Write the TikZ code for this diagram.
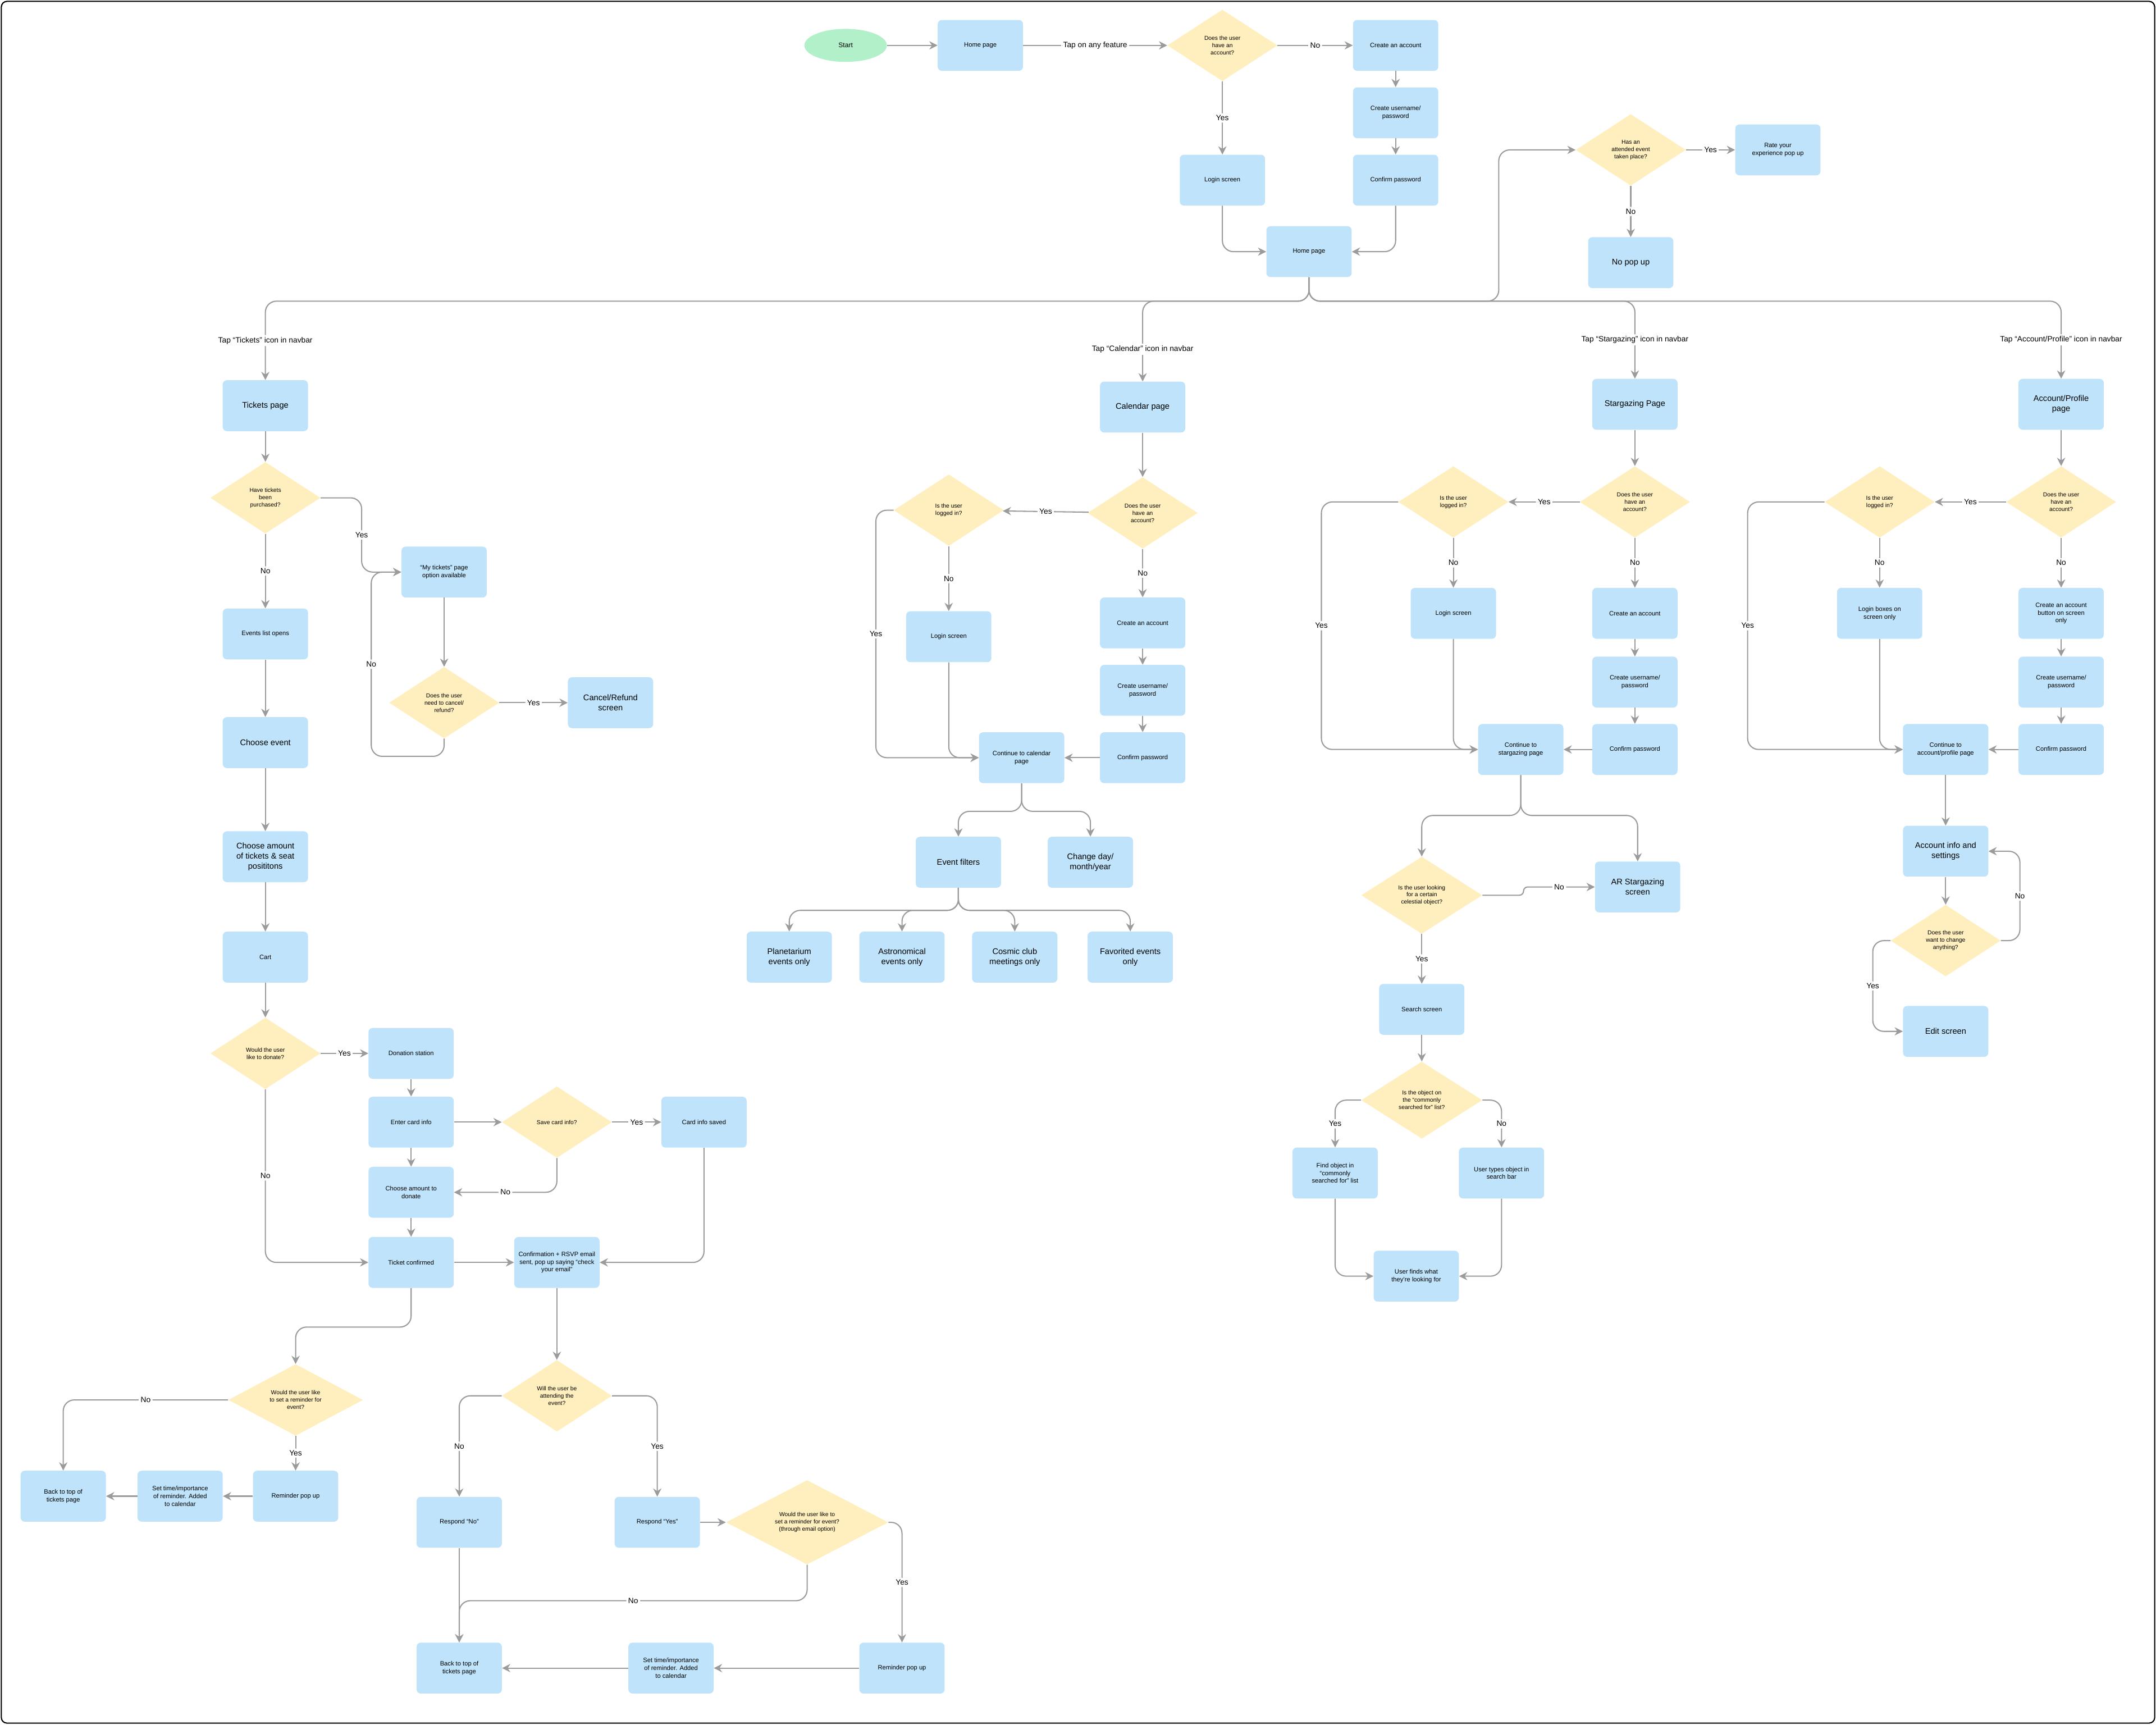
\documentclass[tikz,border=0pt]{standalone}
\usepackage{fontspec}
\setmainfont{Liberation Sans}
\usepackage{tikz}
\usetikzlibrary{shapes.geometric,arrows.meta}
\definecolor{boxblue}{RGB}{190,227,250}
\definecolor{decyellow}{RGB}{255,239,190}
\definecolor{startgreen}{RGB}{178,240,202}
\definecolor{linegrey}{RGB}{155,155,155}
\begin{document}
\begin{tikzpicture}[x=0.05cm,y=-0.05cm]
	\tikzstyle{box}=[rectangle,rounded corners=0.15cm,fill=boxblue,minimum width=3.1cm,minimum height=1.85cm,align=center,font=\fontsize{6.5}{8}\selectfont]
	\tikzstyle{bigbox}=[box,font=\fontsize{8.5}{10.5}\selectfont]
	\tikzstyle{dec}=[diamond,fill=decyellow,inner sep=0pt,minimum width=4cm,minimum height=2.6cm,align=center,font=\fontsize{6}{7.5}\selectfont]
	\tikzstyle{lbl}=[fill=white,inner sep=2pt,font=\fontsize{8}{10}\selectfont]
	\tikzstyle{arr}=[draw=linegrey,line width=1.2pt,rounded corners=0.4cm,-{Stealth[length=0.3cm,width=0.3cm]}]
	\useasboundingbox (0,0) rectangle (1568,1254);
	\draw[line width=1.2pt,rounded corners=0.2cm] (1,1) rectangle (1567,1253);
	% top
		\node[ellipse,fill=startgreen,minimum width=3cm,minimum height=1.2cm,font=\fontsize{7}{8}\selectfont] (start) at (615,33) {Start};
		\node[box] (home1) at (713,33) {Home page};
		\node[dec] (q1) at (889,33) {Does the user\\have an\\account?};
		\node[box] (create1) at (1015,33) {Create an account};
		\node[box] (user1) at (1015,82) {Create username/\\password};
		\node[box] (confirm1) at (1015,131) {Confirm password};
		\node[box] (login1) at (889,131) {Login screen};
		\node[box] (home2) at (952,183) {Home page};
		\node[dec] (q2) at (1186,109) {Has an\\attended event\\taken place?};
		\node[box] (rate) at (1293,109) {Rate your\\experience pop up};
		\node[bigbox] (nopop) at (1186,191) {No pop up};
			\draw[arr] (start) -- (home1);
			\draw[arr] (home1) -- node[lbl] {Tap on any feature} (q1);
			\draw[arr] (q1) -- node[lbl] {No} (create1);
			\draw[arr] (q1) -- node[lbl] {Yes} (login1);
			\draw[arr] (create1) -- (user1);
			\draw[arr] (user1) -- (confirm1);
			\draw[arr] (login1) |- (home2);
			\draw[arr] (confirm1) |- (home2);
			\draw[arr] (q2) -- node[lbl] {Yes} (rate);
			\draw[arr] (q2) -- node[lbl] {No} (nopop);
	% navbar
		\coordinate (bus) at (952,219);
		\coordinate (q2up) at (1090,150);
		\node[bigbox] (tix) at (193,295) {Tickets page};
		\node[bigbox] (cal) at (831,296) {Calendar page};
		\node[bigbox] (star) at (1189,294) {Stargazing Page};
		\node[bigbox] (acct) at (1499,294) {Account/Profile\\page};
			\draw[arr] (home2) -- (bus) -| node[lbl,pos=0.75] {Tap “Tickets” icon in navbar} (tix);
			\draw[arr] (home2) -- (bus) -| node[lbl,pos=0.8] {Tap “Calendar” icon in navbar} (cal);
			\draw[arr] (home2) -- (bus) -| node[lbl,pos=0.75] {Tap “Stargazing” icon in navbar} (star);
			\draw[arr] (home2) -- (bus) -| node[lbl,pos=0.75] {Tap “Account/Profile” icon in navbar} (acct);
			\draw[arr] (home2) -- (bus) -| (q2up) |- (q2);
	% tickets
		\node[dec] (qt1) at (193,362) {Have tickets\\been\\purchased?};
		\node[box] (events) at (193,461) {Events list opens};
		\node[bigbox] (choose) at (193,540) {Choose event};
		\node[bigbox] (amount) at (193,623) {Choose amount\\of tickets \& seat\\posititons};
		\node[box] (cart) at (193,696) {Cart};
		\node[dec] (qt2) at (193,766) {Would the user\\like to donate?};
		\node[box] (mytix) at (323,416) {“My tickets” page\\option available};
		\node[dec] (qt3) at (323,511) {Does the user\\need to cancel/\\refund?};
		\node[bigbox] (cancel) at (444,511) {Cancel/Refund\\screen};
		\node[box] (donation) at (299,766) {Donation station};
		\node[box] (card) at (299,816) {Enter card info};
		\node[dec] (qt4) at (405,816) {Save card info?};
		\node[box] (saved) at (512,816) {Card info saved};
		\node[box] (donamt) at (299,867) {Choose amount to\\donate};
		\node[box] (confirmed) at (299,918) {Ticket confirmed};
		\node[box] (email) at (405,918) {Confirmation + RSVP email\\sent, pop up saying “check\\your email”};
		\node[dec,minimum width=4.9cm] (qt5) at (215,1018) {Would the user like\\to set a reminder for\\event?};
		\node[box] (back1) at (46,1088) {Back to top of\\tickets page};
		\node[box] (settime1) at (131,1088) {Set time/importance\\of reminder. Added\\to calendar};
		\node[box] (reminder1) at (215,1088) {Reminder pop up};
		\node[dec] (qt6) at (405,1015) {Will the user be\\attending the\\event?};
		\node[box] (respno) at (334,1107) {Respond “No”};
		\node[box] (respyes) at (478,1107) {Respond “Yes”};
		\node[dec,minimum width=5.9cm] (qt7) at (587,1107) {Would the user like to\\set a reminder for event?\\(through email option)};
		\node[box] (back2) at (334,1213) {Back to top of\\tickets page};
		\node[box] (settime2) at (488,1213) {Set time/importance\\of reminder. Added\\to calendar};
		\node[box] (reminder2) at (656,1213) {Reminder pop up};
		\coordinate (yt1) at (263,416);
		\coordinate (nt1) at (270,550);
		\coordinate (c2) at (299,965);
		\coordinate (c3) at (587,1164);
			\draw[arr] (tix) -- (qt1);
			\draw[arr] (qt1) -- node[lbl] {No} (events);
			\draw[arr] (qt1.east) -| node[lbl,pos=0.75] {Yes} (yt1) -- (mytix.west);
			\draw[arr] (mytix) -- (qt3);
			\draw[arr] (qt3) -- node[lbl] {Yes} (cancel);
			\draw[arr] (qt3.south) |- (nt1) |- node[lbl,pos=0.25] {No} (mytix.west);
			\draw[arr] (events) -- (choose);
			\draw[arr] (choose) -- (amount);
			\draw[arr] (amount) -- (cart);
			\draw[arr] (cart) -- (qt2);
			\draw[arr] (qt2) -- node[lbl] {Yes} (donation);
			\draw[arr] (qt2.south) |- node[lbl,pos=0.25] {No} (confirmed);
			\draw[arr] (donation) -- (card);
			\draw[arr] (card) -- (donamt);
			\draw[arr] (donamt) -- (confirmed);
			\draw[arr] (card) -- (qt4);
			\draw[arr] (qt4) -- node[lbl] {Yes} (saved);
			\draw[arr] (qt4.south) |- node[lbl,pos=0.75] {No} (donamt);
			\draw[arr] (confirmed) -- (email);
			\draw[arr] (saved) |- (email);
			\draw[arr] (confirmed) -- (c2) -| (qt5);
			\draw[arr] (qt5.west) -| node[lbl,pos=0.25] {No} (back1);
			\draw[arr] (qt5) -- node[lbl] {Yes} (reminder1);
			\draw[arr] (reminder1) -- (settime1);
			\draw[arr] (settime1) -- (back1);
			\draw[arr] (email) -- (qt6);
			\draw[arr] (qt6.west) -| node[lbl,pos=0.75] {No} (respno);
			\draw[arr] (qt6.east) -| node[lbl,pos=0.75] {Yes} (respyes);
			\draw[arr] (respyes) -- (qt7);
			\draw[arr] (respno) -- (back2);
			\draw[arr] (qt7.south) -- (c3) -| node[lbl,pos=0.25] {No} (back2);
			\draw[arr] (qt7.east) -| node[lbl,pos=0.75] {Yes} (reminder2);
			\draw[arr] (reminder2) -- (settime2);
			\draw[arr] (settime2) -- (back2);
	% calendar
		\node[dec] (qc1) at (831,373) {Does the user\\have an\\account?};
		\node[dec] (qc2) at (690,371) {Is the user\\logged in?};
		\node[box] (createc) at (831,453) {Create an account};
		\node[box] (userc) at (831,502) {Create username/\\password};
		\node[box] (confirmc) at (831,551) {Confirm password};
		\node[box] (loginc) at (690,463) {Login screen};
		\node[box] (contc) at (743,551) {Continue to calendar\\page};
		\node[bigbox] (filters) at (697,627) {Event filters};
		\node[bigbox] (change) at (793,627) {Change day/\\month/year};
		\node[bigbox] (planet) at (574,696) {Planetarium\\events only};
		\node[bigbox] (astro) at (656,696) {Astronomical\\events only};
		\node[bigbox] (cosmic) at (738,696) {Cosmic club\\meetings only};
		\node[bigbox] (fav) at (822,696) {Favorited events\\only};
		\coordinate (yc1) at (637,371);
		\coordinate (yc2) at (637,551);
		\coordinate (c5) at (743,590);
		\coordinate (c6) at (697,662);
			\draw[arr] (cal) -- (qc1);
			\draw[arr] (qc1) -- node[lbl] {Yes} (qc2);
			\draw[arr] (qc1) -- node[lbl] {No} (createc);
			\draw[arr] (createc) -- (userc);
			\draw[arr] (userc) -- (confirmc);
			\draw[arr] (confirmc) -- (contc);
			\draw[arr] (qc2) -- node[lbl] {No} (loginc);
			\draw[arr] (loginc) |- (contc.west);
			\draw[arr] (qc2.west) -- (yc1) -- node[lbl] {Yes} (yc2) -- (contc.west);
			\draw[arr] (contc) -- (c5) -| (filters);
			\draw[arr] (contc) -- (c5) -| (change);
			\draw[arr] (filters) -- (c6) -| (planet);
			\draw[arr] (filters) -- (c6) -| (astro);
			\draw[arr] (filters) -- (c6) -| (cosmic);
			\draw[arr] (filters) -- (c6) -| (fav);
	% stargazing
		\node[dec] (qs1) at (1189,365) {Does the user\\have an\\account?};
		\node[dec] (qs2) at (1057,365) {Is the user\\logged in?};
		\node[box] (creates) at (1189,446) {Create an account};
		\node[box] (users) at (1189,496) {Create username/\\password};
		\node[box] (confirms) at (1189,545) {Confirm password};
		\node[box] (logins) at (1057,446) {Login screen};
		\node[box] (conts) at (1106,545) {Continue to\\stargazing page};
		\node[dec,minimum width=4.4cm,minimum height=2.8cm] (qs3) at (1034,651) {Is the user looking\\for a certain\\celestial object?};
		\node[bigbox] (ar) at (1191,645) {AR Stargazing\\screen};
		\node[box] (search) at (1034,734) {Search screen};
		\node[dec,minimum width=4.4cm,minimum height=2.8cm] (qs4) at (1034,800) {Is the object on\\the “commonly\\searched for” list?};
		\node[box] (find) at (971,853) {Find object in\\“commonly\\searched for” list};
		\node[box] (types) at (1092,853) {User types object in\\search bar};
		\node[box] (finds) at (1030,928) {User finds what\\they’re looking for};
		\coordinate (ys1) at (961,365);
		\coordinate (ys2) at (961,545);
		\coordinate (c7) at (1106,593);
		\coordinate (c8) at (1108,651);
			\draw[arr] (star) -- (qs1);
			\draw[arr] (qs1) -- node[lbl] {Yes} (qs2);
			\draw[arr] (qs1) -- node[lbl] {No} (creates);
			\draw[arr] (creates) -- (users);
			\draw[arr] (users) -- (confirms);
			\draw[arr] (confirms) -- (conts);
			\draw[arr] (qs2) -- node[lbl] {No} (logins);
			\draw[arr] (logins) |- (conts.west);
			\draw[arr] (qs2.west) -- (ys1) -- node[lbl] {Yes} (ys2) -- (conts.west);
			\draw[arr] (conts) -- (c7) -| (qs3);
			\draw[arr] (conts) -- (c7) -| (ar);
			\draw[arr,rounded corners=0.15cm] (qs3.east) -- (c8) |- node[lbl,pos=0.75] {No} (ar.west);
			\draw[arr] (qs3) -- node[lbl] {Yes} (search);
			\draw[arr] (search) -- (qs4);
			\draw[arr] (qs4.west) -| node[lbl,pos=0.75] {Yes} (find);
			\draw[arr] (qs4.east) -| node[lbl,pos=0.75] {No} (types);
			\draw[arr] (find) |- (finds);
			\draw[arr] (types) |- (finds);
	% account
		\node[dec] (qa1) at (1499,365) {Does the user\\have an\\account?};
		\node[dec] (qa2) at (1367,365) {Is the user\\logged in?};
		\node[box] (createa) at (1499,446) {Create an account\\button on screen\\only};
		\node[box] (usera) at (1499,496) {Create username/\\password};
		\node[box] (confirma) at (1499,545) {Confirm password};
		\node[box] (logina) at (1367,446) {Login boxes on\\screen only};
		\node[box] (conta) at (1415,545) {Continue to\\account/profile page};
		\node[bigbox] (settings) at (1415,619) {Account info and\\settings};
		\node[dec] (qa3) at (1415,684) {Does the user\\want to change\\anything?};
		\node[bigbox] (edit) at (1415,750) {Edit screen};
		\coordinate (ya1) at (1271,365);
		\coordinate (ya2) at (1271,545);
		\coordinate (na1) at (1469,684);
		\coordinate (na2) at (1469,619);
		\coordinate (ya3) at (1362,684);
		\coordinate (ya4) at (1362,750);
			\draw[arr] (acct) -- (qa1);
			\draw[arr] (qa1) -- node[lbl] {Yes} (qa2);
			\draw[arr] (qa1) -- node[lbl] {No} (createa);
			\draw[arr] (createa) -- (usera);
			\draw[arr] (usera) -- (confirma);
			\draw[arr] (confirma) -- (conta);
			\draw[arr] (qa2) -- node[lbl] {No} (logina);
			\draw[arr] (logina) |- (conta.west);
			\draw[arr] (qa2.west) -- (ya1) -- node[lbl] {Yes} (ya2) -- (conta.west);
			\draw[arr] (conta) -- (settings);
			\draw[arr] (settings) -- (qa3);
			\draw[arr] (qa3.east) -- (na1) -- node[lbl] {No} (na2) -- (settings.east);
			\draw[arr] (qa3.west) -- (ya3) -- node[lbl] {Yes} (ya4) -- (edit.west);
\end{tikzpicture}
\end{document}
